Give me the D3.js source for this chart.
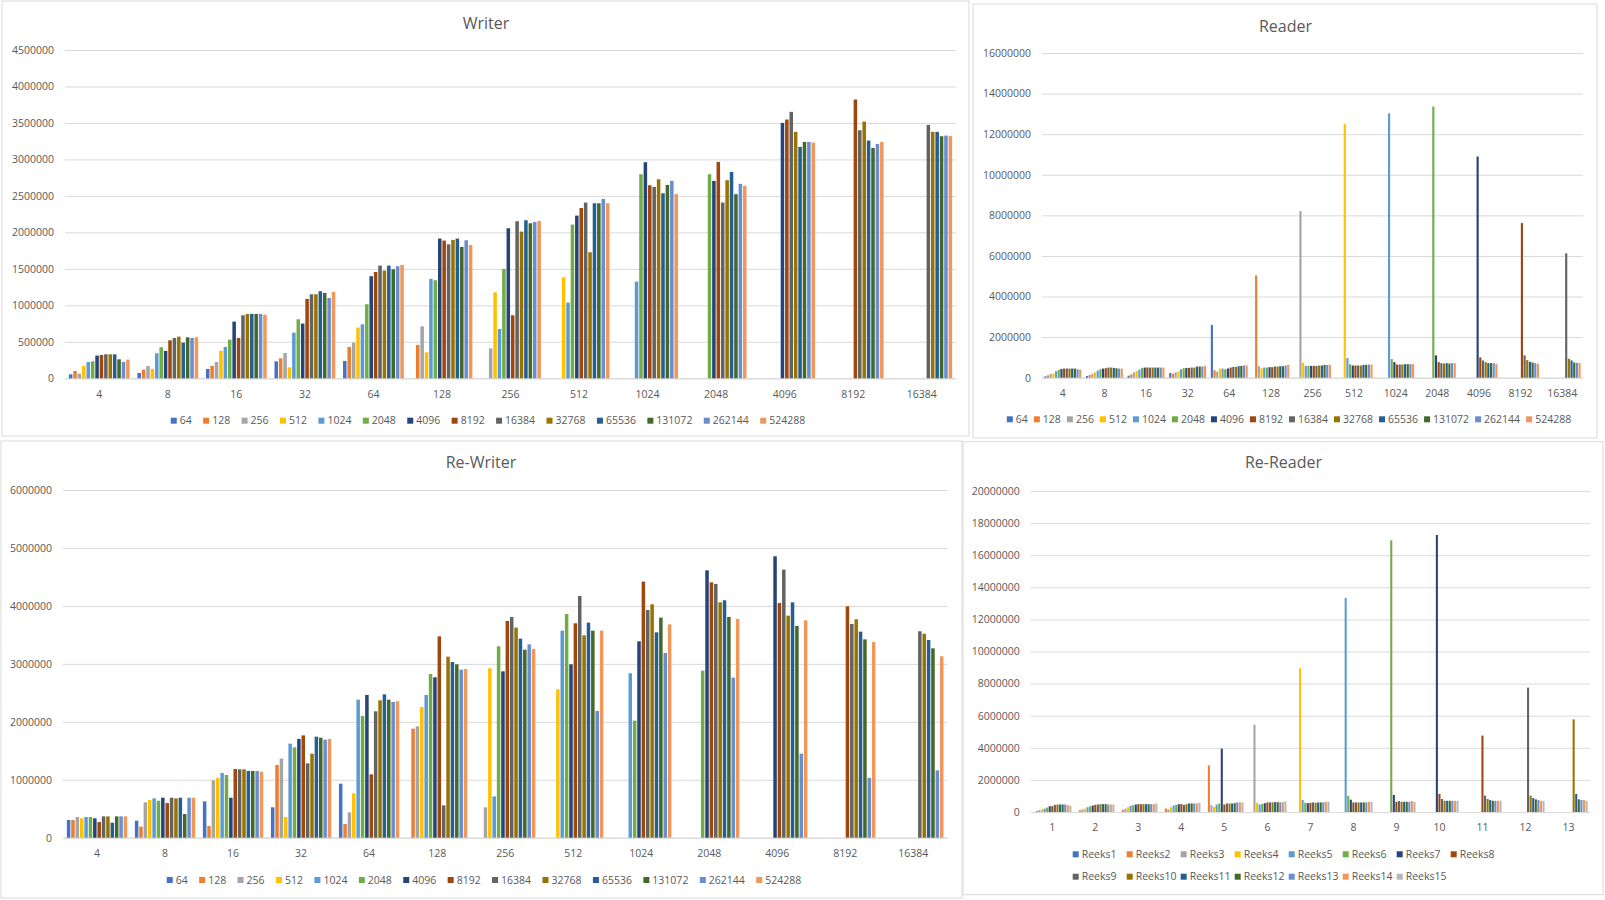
<!DOCTYPE html>
<html>
<head>
<meta charset="utf-8">
<script src="https://cdn.jsdelivr.net/npm/d3@7"></script>
<style>
  body { margin: 0; background: #ffffff; }
  svg { display: block; font-family: "Open Sans", "Noto Sans", sans-serif; }
</style>
</head>
<body>
<div id="chart"></div>
<script>
// Category and series labels
const recordSizes = ["4", "8", "16", "32", "64", "128", "256", "512", "1024", "2048", "4096", "8192", "16384"];
const fileSizes = ["64", "128", "256", "512", "1024", "2048", "4096", "8192", "16384", "32768", "65536", "131072", "262144", "524288"];
const reeksCategories = ["1", "2", "3", "4", "5", "6", "7", "8", "9", "10", "11", "12", "13"];
const reeksNames = ["Reeks1", "Reeks2", "Reeks3", "Reeks4", "Reeks5", "Reeks6", "Reeks7", "Reeks8",
                    "Reeks9", "Reeks10", "Reeks11", "Reeks12", "Reeks13", "Reeks14", "Reeks15"];

// Office palette, one per series
const seriesColors = ["#4472C4", "#ED7D31", "#A5A5A5", "#FFC000", "#5B9BD5", "#70AD47", "#264478", "#9E480E",
                      "#636363", "#997300", "#255E91", "#43682B", "#698ED0", "#F1975A", "#B7B7B7"];

// Y axis tick values
const writerTicks   = [0, 500000, 1000000, 1500000, 2000000, 2500000, 3000000, 3500000, 4000000, 4500000];
const readerTicks   = [0, 2000000, 4000000, 6000000, 8000000, 10000000, 12000000, 14000000, 16000000];
const rewriterTicks = [0, 1000000, 2000000, 3000000, 4000000, 5000000, 6000000];
const rereaderTicks = [0, 2000000, 4000000, 6000000, 8000000, 10000000, 12000000, 14000000, 16000000, 18000000, 20000000];

// Values in thousands, one row per category, one column per series (null = no bar)
const _ = null;
const writerK = [
    [55, 100, 64, 170, 224, 233, 311, 320, 329, 329, 329, 260, 224, 256],
    [73, 119, 170, 128, 343, 425, 375, 521, 553, 571, 489, 562, 553, 562],
    [128, 170, 224, 379, 430, 530, 777, 553, 864, 882, 882, 882, 882, 873],
    [233, 274, 347, 151, 626, 809, 750, 1088, 1152, 1152, 1193, 1170, 1101, 1184],
    [238, 430, 489, 695, 740, 1015, 1399, 1458, 1545, 1476, 1545, 1495, 1536, 1554],
    [_, 457, 713, 356, 1362, 1344, 1915, 1888, 1837, 1897, 1915, 1801, 1892, 1828],
    [_, _, 411, 1179, 676, 1499, 2057, 864, 2153, 2011, 2166, 2125, 2143, 2157],
    [_, _, _, 1385, 1038, 2107, 2230, 2335, 2409, 1728, 2399, 2399, 2459, 2399],
    [_, _, _, _, 1325, 2797, 2962, 2646, 2623, 2728, 2536, 2651, 2706, 2527],
    [_, _, _, _, _, 2797, 2706, 2966, 2409, 2715, 2829, 2523, 2665, 2637],
    [_, _, _, _, _, _, 3501, 3547, 3652, 3378, 3172, 3240, 3240, 3231],
    [_, _, _, _, _, _, _, 3821, 3400, 3519, 3259, 3158, 3213, 3240],
    [_, _, _, _, _, _, _, _, 3473, 3378, 3378, 3318, 3327, 3320]
];

const readerK = [
    [67, 117, 183, 200, 317, 383, 433, 450, 450, 450, 450, 450, 417, 400],
    [83, 133, 200, 267, 350, 417, 450, 467, 500, 500, 483, 467, 450, 450],
    [100, 167, 267, 333, 400, 483, 500, 500, 500, 500, 500, 500, 500, 500],
    [233, 200, 267, 300, 417, 467, 483, 483, 500, 500, 550, 550, 550, 583],
    [2600, 367, 300, 450, 450, 417, 450, 500, 533, 533, 567, 583, 600, 600],
    [_, 5040, 567, 467, 500, 500, 517, 517, 550, 550, 567, 567, 600, 633],
    [_, _, 8210, 733, 583, 583, 583, 583, 583, 600, 600, 633, 633, 633],
    [_, _, _, 12500, 967, 667, 600, 600, 600, 600, 633, 633, 650, 650],
    [_, _, _, _, 13030, 917, 767, 650, 650, 650, 667, 667, 667, 667],
    [_, _, _, _, _, 13360, 1100, 767, 717, 700, 717, 700, 717, 717],
    [_, _, _, _, _, _, 10900, 1000, 850, 767, 717, 717, 717, 683],
    [_, _, _, _, _, _, _, 7620, 1100, 867, 783, 750, 717, 683],
    [_, _, _, _, _, _, _, _, 6130, 933, 850, 750, 733, 717]
];

const rewriterK = [
    [305, 305, 357, 334, 357, 357, 334, 270, 368, 368, 259, 368, 368, 368],
    [293, 190, 610, 650, 679, 639, 690, 598, 690, 679, 690, 409, 690, 690],
    [627, 201, 990, 1030, 1116, 1082, 690, 1185, 1180, 1180, 1151, 1151, 1151, 1139],
    [524, 1254, 1364, 357, 1623, 1559, 1703, 1766, 1283, 1450, 1743, 1726, 1692, 1703],
    [932, 236, 437, 765, 2382, 2100, 2463, 1093, 2181, 2371, 2474, 2382, 2342, 2353],
    [_, 1881, 1922, 2255, 2463, 2825, 2768, 3475, 558, 3124, 3032, 2992, 2900, 2911],
    [_, _, 524, 2923, 713, 3303, 2871, 3740, 3809, 3625, 3435, 3245, 3337, 3257],
    [_, _, _, 2560, 3573, 3861, 2992, 3700, 4171, 3492, 3711, 3573, 2186, 3573],
    [_, _, _, _, 2837, 2020, 3389, 4419, 3930, 4028, 3544, 3797, 3188, 3682],
    [_, _, _, _, _, 2883, 4614, 4407, 4379, 4062, 4097, 3809, 2762, 3774],
    [_, _, _, _, _, _, 4856, 4051, 4626, 3832, 4062, 3654, 1450, 3751],
    [_, _, _, _, _, _, _, 3993, 3688, 3769, 3556, 3423, 1030, 3377],
    [_, _, _, _, _, _, _, _, 3562, 3521, 3412, 3268, 1162, 3130]
];

const rereaderK = [
    [_, 64, 128, 170, 213, 277, 362, 362, 447, 468, 468, 468, 468, 425, 383],
    [_, 106, 170, 213, 298, 362, 404, 447, 468, 490, 490, 490, 468, 468, 468],
    [_, 128, 213, 298, 383, 425, 468, 490, 490, 490, 490, 490, 490, 490, 532],
    [_, 213, 170, 298, 404, 447, 490, 490, 447, 490, 532, 532, 532, 532, 575],
    [_, 2900, 425, 320, 470, 530, 3950, 470, 530, 530, 530, 550, 600, 600, 600],
    [_, _, 5440, 575, 470, 510, 550, 600, 600, 600, 617, 617, 600, 617, 660],
    [_, _, _, 8950, 745, 575, 553, 575, 596, 575, 596, 596, 596, 638, 638],
    [_, _, _, _, 13330, 1000, 766, 596, 596, 596, 596, 596, 596, 638, 638],
    [_, _, _, _, _, 16930, 1060, 638, 680, 638, 638, 638, 638, 680, 638],
    [_, _, _, _, _, _, 17260, 1130, 810, 700, 700, 700, 700, 700, 700],
    [_, _, _, _, _, _, _, 4760, 1020, 810, 745, 700, 700, 700, 700],
    [_, _, _, _, _, _, _, _, 7750, 1020, 870, 790, 745, 700, 700],
    [_, _, _, _, _, _, _, _, _, 5770, 1130, 790, 745, 745, 700]
];

const textColor = "#595959";
const gridColor = "#d9d9d9";

const svg = d3.select("#chart")
    .append("svg")
    .attr("width", 1605)
    .attr("height", 900);

function drawPanel(cfg) {
    const g = svg.append("g");

    // Chart area frame
    g.append("rect")
        .attr("x", cfg.panel.x)
        .attr("y", cfg.panel.y)
        .attr("width", cfg.panel.w)
        .attr("height", cfg.panel.h)
        .attr("fill", "#ffffff")
        .attr("stroke", gridColor)
        .attr("stroke-width", 1);

    const x0 = d3.scaleBand()
        .domain(cfg.categories)
        .range([cfg.plot.left, cfg.plot.right])
        .paddingInner(0.1)
        .paddingOuter(0.05);

    const x1 = d3.scaleBand()
        .domain(d3.range(cfg.series.length))
        .range([0, x0.bandwidth()]);

    const y = d3.scaleLinear()
        .domain([0, d3.max(cfg.ticks)])
        .range([cfg.plot.bottom, cfg.plot.top]);

    // Y axis with gridlines
    const yAxis = g.append("g")
        .attr("transform", `translate(${cfg.plot.left}, 0)`)
        .call(d3.axisLeft(y)
            .tickValues(cfg.ticks)
            .tickFormat(d3.format("d"))
            .tickSize(-(cfg.plot.right - cfg.plot.left))
            .tickPadding(11));
    yAxis.select(".domain").remove();
    yAxis.selectAll(".tick line").attr("stroke", gridColor);
    yAxis.selectAll(".tick text")
        .attr("fill", textColor)
        .style("font-size", "10.5px")
        .style("font-family", "'Open Sans', sans-serif");

    // Category axis
    const xAxis = g.append("g")
        .attr("transform", `translate(0, ${cfg.plot.bottom})`)
        .call(d3.axisBottom(x0).tickSize(0).tickPadding(12));
    xAxis.select(".domain").attr("stroke", gridColor);
    xAxis.selectAll(".tick text")
        .attr("fill", textColor)
        .style("font-size", "10.5px")
        .style("font-family", "'Open Sans', sans-serif");

    // Bars
    const barW = x1.bandwidth() * 0.8;
    cfg.values.forEach((row, i) => {
        row.forEach((v, j) => {
            if (v === null) return;
            g.append("rect")
                .attr("x", x0(cfg.categories[i]) + x1(j) + (x1.bandwidth() - barW) / 2)
                .attr("y", y(v * 1000))
                .attr("width", barW)
                .attr("height", cfg.plot.bottom - y(v * 1000))
                .attr("fill", seriesColors[j]);
        });
    });

    // Title
    g.append("text")
        .attr("x", cfg.title.x)
        .attr("y", cfg.title.y)
        .attr("text-anchor", "middle")
        .attr("fill", textColor)
        .style("font-size", "16px")
        .text(cfg.title.text);

    // Legend
    const leg = g.append("g");
    if (cfg.legend.columns) {
        // grid legend (fixed column width)
        cfg.series.forEach((name, j) => {
            const col = j % cfg.legend.columns;
            const row = Math.floor(j / cfg.legend.columns);
            const lx = cfg.legend.x + col * cfg.legend.colW;
            const ly = cfg.legend.rows[row];
            leg.append("rect")
                .attr("x", lx).attr("y", ly - 3)
                .attr("width", 6).attr("height", 6)
                .attr("fill", seriesColors[j]);
            leg.append("text")
                .attr("x", lx + 9).attr("y", ly)
                .attr("dy", "0.35em")
                .attr("fill", textColor)
                .style("font-size", "10.5px")
                .text(name);
        });
    } else {
        const items = cfg.series.map((name, j) => {
            const t = leg.append("text")
                .attr("dy", "0.35em")
                .attr("y", cfg.legend.y)
                .attr("fill", textColor)
                .style("font-size", "10.5px")
                .text(name);
            return { t, w: t.node().getComputedTextLength(), j };
        });
        const total = d3.sum(items, d => 9 + d.w) + cfg.legend.gap * (items.length - 1);
        let lx = cfg.legend.cx - total / 2;
        items.forEach(d => {
            leg.append("rect")
                .attr("x", lx).attr("y", cfg.legend.y - 3)
                .attr("width", 6).attr("height", 6)
                .attr("fill", seriesColors[d.j]);
            d.t.attr("x", lx + 9);
            lx += 9 + d.w + cfg.legend.gap;
        });
    }
}

drawPanel({
    panel: { x: 2, y: 1, w: 967, h: 435 },
    plot: { left: 65, right: 956, top: 50, bottom: 378.3 },
    categories: recordSizes, series: fileSizes, values: writerK, ticks: writerTicks,
    title: { text: "Writer", x: 486, y: 29 },
    legend: { y: 420.7, cx: 488, gap: 11.4 }
});

drawPanel({
    panel: { x: 973, y: 4, w: 624, h: 434 },
    plot: { left: 1042, right: 1583, top: 53, bottom: 377.7 },
    categories: recordSizes, series: fileSizes, values: readerK, ticks: readerTicks,
    title: { text: "Reader", x: 1285.5, y: 31.5 },
    legend: { y: 419.3, cx: 1289, gap: 6 }
});

drawPanel({
    panel: { x: 1, y: 441, w: 961, h: 457 },
    plot: { left: 63, right: 947.3, top: 490, bottom: 837.7 },
    categories: recordSizes, series: fileSizes, values: rewriterK, ticks: rewriterTicks,
    title: { text: "Re-Writer", x: 481, y: 468.3 },
    legend: { y: 880, cx: 484, gap: 11.4 }
});

drawPanel({
    panel: { x: 963, y: 441.7, w: 640, h: 453 },
    plot: { left: 1030.8, right: 1590, top: 491, bottom: 812 },
    categories: reeksCategories, series: reeksNames, values: rereaderK, ticks: rereaderTicks,
    title: { text: "Re-Reader", x: 1283.5, y: 468.3 },
    legend: { columns: 8, x: 1072.7, colW: 54, rows: [854.3, 876.7] }
});
</script>
</body>
</html>
